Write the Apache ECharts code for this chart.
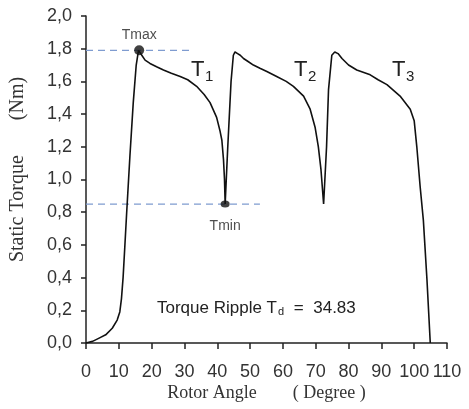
<!DOCTYPE html>
<html>
<head>
<meta charset="utf-8">
<script src="https://cdn.jsdelivr.net/npm/echarts@6/dist/echarts.min.js"></script>
<style>
  html, body { margin: 0; padding: 0; background: #fff; }
  #chart { width: 469px; height: 409px; }
</style>
</head>
<body>
<div id="chart"></div>
<script>
// Static torque vs. rotor angle
const angle = [
  0, 2, 4, 6, 8, 9.5, 10.3, 10.8, 11.3, 11.8, 12.4, 13.4, 14.4, 15.3, 16.0,
  17, 18, 19.5, 21.5, 23.6, 26, 28.7, 31, 33.7, 36, 37.8, 39.8, 40.8, 41.4, 41.9, 42.2, 42.4,
  43.2, 44.2, 44.9, 45.4, 46.2, 47, 48, 49.5, 51, 53, 55.1, 58.1, 61, 63.2, 66.3, 68.3, 69.8, 70.8, 71.6, 72.4,
  73.3, 73.9, 74.9, 75.8, 76.8, 78, 80, 82.5, 86.6, 89, 91.7, 95.7, 98.8, 100, 100.8, 101.8, 102.8, 103.9, 104.9
];
const torque = [
  0, 0.01, 0.03, 0.05, 0.09, 0.14, 0.19, 0.27, 0.40, 0.58, 0.80, 1.15, 1.47, 1.70, 1.79,
  1.76, 1.73, 1.71, 1.69, 1.67, 1.65, 1.63, 1.61, 1.57, 1.52, 1.47, 1.38, 1.30, 1.24, 1.12, 1.00, 0.85,
  1.20, 1.60, 1.76, 1.78, 1.77, 1.76, 1.74, 1.72, 1.70, 1.68, 1.66, 1.63, 1.60, 1.57, 1.51, 1.43, 1.32, 1.20, 1.06, 0.85,
  1.20, 1.55, 1.76, 1.78, 1.77, 1.74, 1.70, 1.67, 1.64, 1.61, 1.58, 1.51, 1.43, 1.36, 1.20, 0.96, 0.75, 0.385, 0
];

// Extremes and their reference lines
const tMax = [16.2, 1.79];
const tMin = [42.4, 0.85];
const tMaxLineEnd = 32;
const tMinLineEnd = 53;

const xTicks = { min: 0, max: 110, interval: 10 };
const yTicks = { min: 0, max: 2, interval: 0.2 };

const SANS = '"Liberation Sans", Arial, sans-serif';
const SERIF = '"Liberation Serif", "Times New Roman", serif';

const curve = angle.map((a, i) => [a, torque[i]]);
const dashColor = '#7f9cd0';

const chart = echarts.init(document.getElementById('chart'), null, { renderer: 'canvas' });
chart.setOption({
  animation: false,
  backgroundColor: '#fff',
  grid: { left: 86, right: 22, top: 16, bottom: 66, containLabel: false, outerBoundsMode: 'none' },
  xAxis: {
    type: 'value',
    min: xTicks.min, max: xTicks.max, interval: xTicks.interval,
    name: 'Rotor Angle        ( Degree )',
    nameLocation: 'middle',
    nameGap: 41,
    nameMoveOverlap: false,
    nameTextStyle: { fontFamily: SERIF, fontSize: 18, color: '#333' },
    axisLine: { lineStyle: { color: '#222', width: 1.5 } },
    axisTick: { show: true, inside: false, length: 6, lineStyle: { color: '#222', width: 1.5 } },
    axisLabel: { fontFamily: SANS, fontSize: 18, color: '#333', margin: 20 },
    splitLine: { show: false }
  },
  yAxis: {
    type: 'value',
    min: yTicks.min, max: yTicks.max, interval: yTicks.interval,
    name: 'Static Torque       (Nm)',
    nameLocation: 'middle',
    nameGap: 58,
    nameMoveOverlap: false,
    nameTextStyle: { fontFamily: SERIF, fontSize: 20, color: '#333', padding: [0, 0, 0, 20] },
    axisLine: { show: true, lineStyle: { color: '#222', width: 1.5 } },
    axisTick: { show: true, inside: false, length: 5, lineStyle: { color: '#222', width: 1.5 } },
    axisLabel: {
      fontFamily: SANS, fontSize: 18, color: '#333', margin: 14,
      formatter: v => v.toFixed(1).replace('.', ',')
    },
    splitLine: { show: false }
  },
  series: [
    {
      type: 'line',
      data: [[0, tMax[1]], [tMaxLineEnd, tMax[1]]],
      symbol: 'none',
      lineStyle: { color: dashColor, width: 1.3, type: [7, 5] },
      z: 1
    },
    {
      type: 'line',
      data: [[0, tMin[1]], [tMinLineEnd, tMin[1]]],
      symbol: 'none',
      lineStyle: { color: dashColor, width: 1.3, type: [7, 5] },
      z: 1
    },
    {
      type: 'line',
      data: curve,
      symbol: 'none',
      smooth: false,
      lineStyle: { color: '#111', width: 1.6 },
      z: 2
    },
    {
      type: 'scatter',
      data: [
        { value: tMax, symbolSize: 10, label: { show: true, position: 'top', distance: 3, formatter: 'Tmax' } },
        { value: tMin, symbolSize: [9, 7], label: { show: true, position: 'bottom', distance: 12, formatter: 'Tmin' } }
      ],
      itemStyle: { color: '#111' },
      label: { fontFamily: SANS, fontSize: 14, color: '#222' },
      z: 3
    }
  ],
  graphic: [
    { type: 'text', left: 191, top: 59, style: { text: 'T', font: '22px ' + SANS, fill: '#222' } },
    { type: 'text', left: 205, top: 69, style: { text: '1', font: '15px ' + SANS, fill: '#222' } },
    { type: 'text', left: 294, top: 59, style: { text: 'T', font: '22px ' + SANS, fill: '#222' } },
    { type: 'text', left: 308, top: 69, style: { text: '2', font: '15px ' + SANS, fill: '#222' } },
    { type: 'text', left: 392, top: 59, style: { text: 'T', font: '22px ' + SANS, fill: '#222' } },
    { type: 'text', left: 406, top: 69, style: { text: '3', font: '15px ' + SANS, fill: '#222' } },
    {
      type: 'text', left: 157, top: 300,
      style: {
        text: '{a|Torque Ripple T}{s|d}{a| =  34.83}',
        rich: {
          a: { font: '17px ' + SANS, fill: '#222', verticalAlign: 'bottom' },
          s: { font: '11px ' + SANS, fill: '#222', verticalAlign: 'bottom', padding: [0, 5, 0, 1] }
        }
      }
    }
  ]
});
</script>
</body>
</html>
